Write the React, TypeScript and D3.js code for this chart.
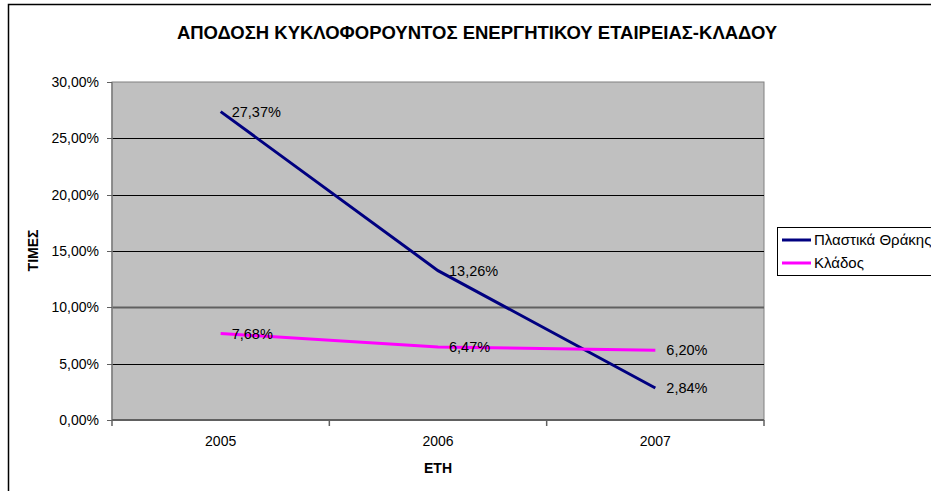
import React from "react";
import * as d3 from "d3";

const categories = ["2005", "2006", "2007"];
const seriesNames = ["Πλαστικά Θράκης", "Κλάδος"];
const plastikaValues = [27.37, 13.26, 2.84];
const kladosValues = [7.68, 6.47, 6.2];
const yTicks = [0, 5, 10, 15, 20, 25, 30];
const titleText = "ΑΠΟΔΟΣΗ ΚΥΚΛΟΦΟΡΟΥΝΤΟΣ ΕΝΕΡΓΗΤΙΚΟΥ ΕΤΑΙΡΕΙΑΣ-ΚΛΑΔΟΥ";
const yTitle = "ΤΙΜΕΣ";
const xTitle = "ΕΤΗ";

const colors = ["#000080", "#FF00FF"];
const fmt = (v: number) => v.toFixed(2).replace(".", ",") + "%";

export default function App() {
  const W = 931, H = 491;
  const left = 112, right = 764, top = 82, bottom = 420;
  const x = d3.scaleBand<string>().domain(categories).range([left, right]).padding(0);
  const y = d3.scaleLinear().domain([0, 30]).range([bottom, top]);
  const cx = (c: string) => (x(c) as number) + x.bandwidth() / 2;
  const line = d3.line<[string, number]>().x((d) => cx(d[0])).y((d) => y(d[1]));
  const series = [plastikaValues, kladosValues];
  const font = "'Liberation Sans', Arial, sans-serif";
  const boundaries = [...categories.map((c) => x(c) as number), right];

  return (
    <svg width={W} height={H} style={{ position: "fixed", left: 0, top: 0, background: "#fff" }} fontFamily={font}>
      <rect x={8.5} y={4.5} width={W + 10} height={H + 10} fill="#fff" stroke="#000" strokeWidth={1.5} />
      <text x={477} y={39} textAnchor="middle" fontSize={18.5} fontWeight="bold">{titleText}</text>
      <rect x={left} y={top} width={right - left} height={bottom - top} fill="#C0C0C0" stroke="#808080" strokeWidth={1} />
      {yTicks.filter((t) => t > 0 && t < 30).map((t) => (
        <line key={t} x1={left} x2={right} y1={Math.round(y(t)) + 0.5} y2={Math.round(y(t)) + 0.5}
          stroke={t === 10 ? "#606060" : "#000"} strokeWidth={t === 10 ? 2 : 1} />
      ))}
      <line x1={left} x2={left} y1={top} y2={bottom} stroke="#808080" strokeWidth={1.5} />
      <line x1={left} x2={right} y1={bottom} y2={bottom} stroke="#606060" strokeWidth={2} />
      {yTicks.map((t) => (
        <g key={t}>
          <line x1={107} x2={left} y1={Math.round(y(t)) + 0.5} y2={Math.round(y(t)) + 0.5} stroke="#606060" strokeWidth={1} />
          <text x={99} y={y(t)} dy="0.35em" textAnchor="end" fontSize={14}>{fmt(t)}</text>
        </g>
      ))}
      {boundaries.map((b, i) => (
        <line key={i} x1={b} x2={b} y1={bottom} y2={bottom + 6} stroke="#606060" strokeWidth={1.5} />
      ))}
      {categories.map((c) => (
        <text key={c} x={cx(c)} y={441} dy="0.35em" textAnchor="middle" fontSize={14}>{c}</text>
      ))}
      <text x={438} y={468} dy="0.35em" textAnchor="middle" fontSize={14} fontWeight="bold">{xTitle}</text>
      <text transform={`translate(33,250.5) rotate(-90)`} dy="0.35em" textAnchor="middle" fontSize={14} fontWeight="bold">{yTitle}</text>
      {series.map((vals, si) => (
        <g key={si}>
          <path d={line(categories.map((c, i) => [c, vals[i]]) as [string, number][]) || ""} fill="none" stroke={colors[si]} strokeWidth={3} />
          {categories.map((c, i) => (
            <text key={c} x={cx(c) + 11} y={y(vals[i])} dy="0.35em" fontSize={14.5}>{fmt(vals[i])}</text>
          ))}
        </g>
      ))}
      <rect x={777.5} y={227.5} width={170} height={48} fill="#fff" stroke="#000" strokeWidth={1} />
      {seriesNames.map((n, i) => (
        <g key={n}>
          <line x1={782} x2={811} y1={240 + i * 23} y2={240 + i * 23} stroke={colors[i]} strokeWidth={3} />
          <text x={814} y={240 + i * 23} dy="0.35em" fontSize={15}>{n}</text>
        </g>
      ))}
    </svg>
  );
}
